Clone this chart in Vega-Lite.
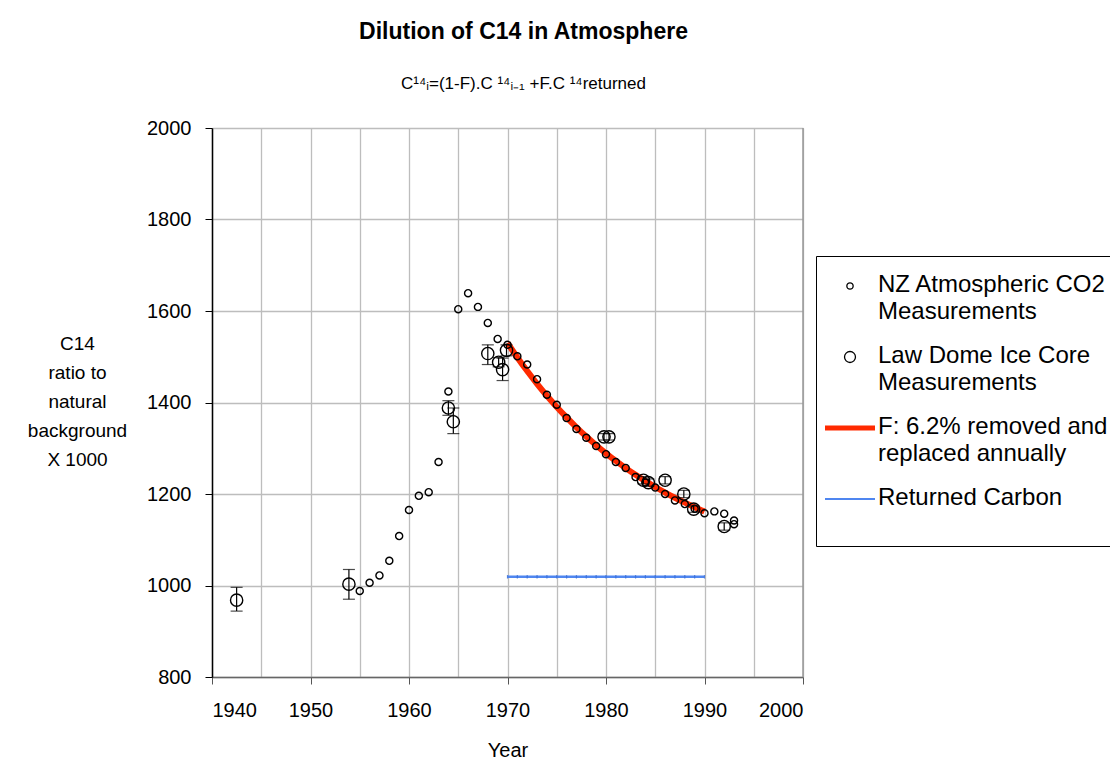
{
  "$schema": "https://vega.github.io/schema/vega-lite/v6.json",
  "width": 591,
  "height": 549,
  "autosize": {"type": "none"},
  "padding": {"left": 212, "top": 128, "right": 307, "bottom": 83},
  "background": "white",
  "title": {
    "text": "Dilution of C14 in Atmosphere",
    "subtitle": "C¹⁴ᵢ=(1-F).C ¹⁴ᵢ₋₁ +F.C ¹⁴returned",
    "anchor": "middle",
    "dx": 16,
    "offset": 26,
    "font": "Liberation Sans",
    "fontSize": 23,
    "fontWeight": "bold",
    "color": "black",
    "subtitleFont": "Liberation Sans",
    "subtitleFontSize": 17,
    "subtitleColor": "black",
    "subtitlePadding": 32
  },
  "config": {
    "view": {"stroke": null},
    "axis": {
      "labelFont": "Liberation Sans",
      "titleFont": "Liberation Sans",
      "labelColor": "black",
      "titleColor": "black",
      "titleFontWeight": "normal",
      "gridColor": "#bdbdbd",
      "gridWidth": 1.3
    }
  },
  "data": {
    "values": [
      {"series": "NZ Atmospheric CO2 Measurements", "year": 1955, "value": 988},
      {"series": "NZ Atmospheric CO2 Measurements", "year": 1956, "value": 1006},
      {"series": "NZ Atmospheric CO2 Measurements", "year": 1957, "value": 1022},
      {"series": "NZ Atmospheric CO2 Measurements", "year": 1958, "value": 1054},
      {"series": "NZ Atmospheric CO2 Measurements", "year": 1959, "value": 1108},
      {"series": "NZ Atmospheric CO2 Measurements", "year": 1960, "value": 1165},
      {"series": "NZ Atmospheric CO2 Measurements", "year": 1961, "value": 1196},
      {"series": "NZ Atmospheric CO2 Measurements", "year": 1962, "value": 1204},
      {"series": "NZ Atmospheric CO2 Measurements", "year": 1963, "value": 1270},
      {"series": "NZ Atmospheric CO2 Measurements", "year": 1964, "value": 1424},
      {"series": "NZ Atmospheric CO2 Measurements", "year": 1965, "value": 1604},
      {"series": "NZ Atmospheric CO2 Measurements", "year": 1966, "value": 1639},
      {"series": "NZ Atmospheric CO2 Measurements", "year": 1967, "value": 1609},
      {"series": "NZ Atmospheric CO2 Measurements", "year": 1968, "value": 1574},
      {"series": "NZ Atmospheric CO2 Measurements", "year": 1969, "value": 1539},
      {"series": "NZ Atmospheric CO2 Measurements", "year": 1970, "value": 1526},
      {"series": "NZ Atmospheric CO2 Measurements", "year": 1971, "value": 1501},
      {"series": "NZ Atmospheric CO2 Measurements", "year": 1972, "value": 1483},
      {"series": "NZ Atmospheric CO2 Measurements", "year": 1973, "value": 1451},
      {"series": "NZ Atmospheric CO2 Measurements", "year": 1974, "value": 1417},
      {"series": "NZ Atmospheric CO2 Measurements", "year": 1975, "value": 1395},
      {"series": "NZ Atmospheric CO2 Measurements", "year": 1976, "value": 1366},
      {"series": "NZ Atmospheric CO2 Measurements", "year": 1977, "value": 1342},
      {"series": "NZ Atmospheric CO2 Measurements", "year": 1978, "value": 1323},
      {"series": "NZ Atmospheric CO2 Measurements", "year": 1979, "value": 1305},
      {"series": "NZ Atmospheric CO2 Measurements", "year": 1980, "value": 1287},
      {"series": "NZ Atmospheric CO2 Measurements", "year": 1981, "value": 1270},
      {"series": "NZ Atmospheric CO2 Measurements", "year": 1982, "value": 1257},
      {"series": "NZ Atmospheric CO2 Measurements", "year": 1983, "value": 1237},
      {"series": "NZ Atmospheric CO2 Measurements", "year": 1984, "value": 1225},
      {"series": "NZ Atmospheric CO2 Measurements", "year": 1985, "value": 1214},
      {"series": "NZ Atmospheric CO2 Measurements", "year": 1986, "value": 1200},
      {"series": "NZ Atmospheric CO2 Measurements", "year": 1987, "value": 1186},
      {"series": "NZ Atmospheric CO2 Measurements", "year": 1988, "value": 1178},
      {"series": "NZ Atmospheric CO2 Measurements", "year": 1989, "value": 1168},
      {"series": "NZ Atmospheric CO2 Measurements", "year": 1990, "value": 1158},
      {"series": "NZ Atmospheric CO2 Measurements", "year": 1991, "value": 1162},
      {"series": "NZ Atmospheric CO2 Measurements", "year": 1992, "value": 1157},
      {"series": "NZ Atmospheric CO2 Measurements", "year": 1993, "value": 1142},
      {"series": "NZ Atmospheric CO2 Measurements", "year": 1993, "value": 1134},
      {"series": "Law Dome Ice Core Measurements", "year": 1942.5, "value": 968, "lo": 944, "hi": 996},
      {"series": "Law Dome Ice Core Measurements", "year": 1953.9, "value": 1003, "lo": 970, "hi": 1035},
      {"series": "Law Dome Ice Core Measurements", "year": 1964.0, "value": 1388, "lo": 1372, "hi": 1404},
      {"series": "Law Dome Ice Core Measurements", "year": 1964.5, "value": 1358, "lo": 1332, "hi": 1388},
      {"series": "Law Dome Ice Core Measurements", "year": 1968.0, "value": 1507, "lo": 1483, "hi": 1526},
      {"series": "Law Dome Ice Core Measurements", "year": 1969.1, "value": 1488, "lo": 1478, "hi": 1498},
      {"series": "Law Dome Ice Core Measurements", "year": 1969.5, "value": 1472, "lo": 1448, "hi": 1497},
      {"series": "Law Dome Ice Core Measurements", "year": 1969.9, "value": 1514, "lo": 1502, "hi": 1526},
      {"series": "Law Dome Ice Core Measurements", "year": 1979.8, "value": 1325, "lo": 1318, "hi": 1332},
      {"series": "Law Dome Ice Core Measurements", "year": 1980.3, "value": 1325, "lo": 1318, "hi": 1332},
      {"series": "Law Dome Ice Core Measurements", "year": 1983.8, "value": 1230, "lo": 1222, "hi": 1238},
      {"series": "Law Dome Ice Core Measurements", "year": 1984.3, "value": 1225, "lo": 1217, "hi": 1233},
      {"series": "Law Dome Ice Core Measurements", "year": 1986.0, "value": 1230, "lo": 1222, "hi": 1238},
      {"series": "Law Dome Ice Core Measurements", "year": 1987.9, "value": 1200, "lo": 1192, "hi": 1208},
      {"series": "Law Dome Ice Core Measurements", "year": 1988.9, "value": 1167, "lo": 1160, "hi": 1174},
      {"series": "Law Dome Ice Core Measurements", "year": 1992.0, "value": 1129, "lo": 1121, "hi": 1137},
      {"series": "F: 6.2% removed and replaced annually", "year": 1970, "value": 1530},
      {"series": "F: 6.2% removed and replaced annually", "year": 1971, "value": 1498.4},
      {"series": "F: 6.2% removed and replaced annually", "year": 1972, "value": 1468.7},
      {"series": "F: 6.2% removed and replaced annually", "year": 1973, "value": 1440.9},
      {"series": "F: 6.2% removed and replaced annually", "year": 1974, "value": 1414.8},
      {"series": "F: 6.2% removed and replaced annually", "year": 1975, "value": 1390.3},
      {"series": "F: 6.2% removed and replaced annually", "year": 1976, "value": 1367.4},
      {"series": "F: 6.2% removed and replaced annually", "year": 1977, "value": 1345.8},
      {"series": "F: 6.2% removed and replaced annually", "year": 1978, "value": 1325.6},
      {"series": "F: 6.2% removed and replaced annually", "year": 1979, "value": 1306.7},
      {"series": "F: 6.2% removed and replaced annually", "year": 1980, "value": 1288.9},
      {"series": "F: 6.2% removed and replaced annually", "year": 1981, "value": 1272.2},
      {"series": "F: 6.2% removed and replaced annually", "year": 1982, "value": 1256.6},
      {"series": "F: 6.2% removed and replaced annually", "year": 1983, "value": 1241.9},
      {"series": "F: 6.2% removed and replaced annually", "year": 1984, "value": 1228.2},
      {"series": "F: 6.2% removed and replaced annually", "year": 1985, "value": 1215.3},
      {"series": "F: 6.2% removed and replaced annually", "year": 1986, "value": 1203.2},
      {"series": "F: 6.2% removed and replaced annually", "year": 1987, "value": 1191.8},
      {"series": "F: 6.2% removed and replaced annually", "year": 1988, "value": 1181.1},
      {"series": "F: 6.2% removed and replaced annually", "year": 1989, "value": 1171.2},
      {"series": "F: 6.2% removed and replaced annually", "year": 1990, "value": 1161.8},
      {"series": "Returned Carbon", "year": 1970, "value": 1019},
      {"series": "Returned Carbon", "year": 1971, "value": 1019},
      {"series": "Returned Carbon", "year": 1972, "value": 1019},
      {"series": "Returned Carbon", "year": 1973, "value": 1019},
      {"series": "Returned Carbon", "year": 1974, "value": 1019},
      {"series": "Returned Carbon", "year": 1975, "value": 1019},
      {"series": "Returned Carbon", "year": 1976, "value": 1019},
      {"series": "Returned Carbon", "year": 1977, "value": 1019},
      {"series": "Returned Carbon", "year": 1978, "value": 1019},
      {"series": "Returned Carbon", "year": 1979, "value": 1019},
      {"series": "Returned Carbon", "year": 1980, "value": 1019},
      {"series": "Returned Carbon", "year": 1981, "value": 1019},
      {"series": "Returned Carbon", "year": 1982, "value": 1019},
      {"series": "Returned Carbon", "year": 1983, "value": 1019},
      {"series": "Returned Carbon", "year": 1984, "value": 1019},
      {"series": "Returned Carbon", "year": 1985, "value": 1019},
      {"series": "Returned Carbon", "year": 1986, "value": 1019},
      {"series": "Returned Carbon", "year": 1987, "value": 1019},
      {"series": "Returned Carbon", "year": 1988, "value": 1019},
      {"series": "Returned Carbon", "year": 1989, "value": 1019},
      {"series": "Returned Carbon", "year": 1990, "value": 1019}
    ]
  },
  "encoding": {
    "x": {
      "field": "year",
      "type": "quantitative",
      "scale": {"domain": [1940, 2000], "nice": false, "zero": false},
      "axis": {
        "title": "Year",
        "titleFontSize": 20,
        "titlePadding": 20,
        "values": [1940, 1945, 1950, 1955, 1960, 1965, 1970, 1975, 1980, 1985, 1990, 1995, 2000],
        "labelExpr": "datum.value % 10 == 0 ? datum.label : ''",
        "tickOpacity": {"condition": {"test": "datum.value % 10 == 0", "value": 1}, "value": 0},
        "format": "d",
        "labelFontSize": 20,
        "labelPadding": 16,
        "tickSize": 7,
        "tickColor": "#555555",
        "domainColor": "#666666",
        "domainWidth": 1.5,
        "grid": true
      }
    },
    "y": {
      "field": "value",
      "type": "quantitative",
      "scale": {"domain": [800, 2000], "nice": false, "zero": false},
      "axis": {
        "title": ["C14", "ratio  to", "natural", "background", "X 1000"],
        "titleAngle": 0,
        "titleAlign": "center",
        "titleBaseline": "middle",
        "titleX": -135,
        "titleY": 215,
        "titleFontSize": 19,
        "titleLineHeight": 29,
        "values": [800, 1000, 1200, 1400, 1600, 1800, 2000],
        "format": "d",
        "labelFontSize": 20,
        "labelPadding": 14,
        "tickSize": 7,
        "tickColor": "black",
        "domainColor": "black",
        "domainWidth": 1.5,
        "grid": true
      }
    }
  },
  "layer": [
    {
      "mark": {"type": "rule", "color": "#999999", "strokeWidth": 1.5},
      "data": {"values": [{"edge": 2000}]},
      "encoding": {"x": {"field": "edge", "type": "quantitative"}, "y": {"value": 0}, "y2": {"value": 549}}
    },
    {
      "transform": [{"filter": "datum.series == 'F: 6.2% removed and replaced annually'"}],
      "mark": {"type": "line", "strokeWidth": 6, "interpolate": "monotone"},
      "encoding": {
        "color": {
          "field": "series",
          "type": "nominal",
          "scale": {
            "domain": ["NZ Atmospheric CO2 Measurements", "Law Dome Ice Core Measurements", "F: 6.2% removed and replaced annually", "Returned Carbon"],
            "range": ["black", "black", "#ff2a00", "#4f86f0"]
          },
          "legend": {
            "title": " ",
            "titleOrient": "bottom",
            "titleFontSize": 18,
            "titlePadding": 0,
            "orient": "none",
            "legendX": 604,
            "legendY": 128,
            "padding": 18,
            "fillColor": "white",
            "strokeColor": "black",
            "symbolSize": 2500,
            "symbolOffset": 4,
            "labelFont": "Liberation Sans",
            "labelFontSize": 24,
            "labelColor": "black",
            "labelOffset": 16,
            "labelLimit": 400,
            "rowPadding": 20,
            "labelBaseline": "top",
            "labelExpr": "datum.value == 'NZ Atmospheric CO2 Measurements' ? ['NZ Atmospheric CO2', 'Measurements'] : datum.value == 'Law Dome Ice Core Measurements' ? ['Law Dome Ice Core', 'Measurements'] : datum.value == 'F: 6.2% removed and replaced annually' ? ['F: 6.2% removed and', 'replaced annually'] : datum.label",
            "encode": {
              "symbols": {
                "update": {
                  "shape": {"signal": "datum.value == 'F: 6.2% removed and replaced annually' || datum.value == 'Returned Carbon' ? 'stroke' : 'circle'"},
                  "size": {"signal": "datum.value == 'NZ Atmospheric CO2 Measurements' ? 40 : datum.value == 'Law Dome Ice Core Measurements' ? 120 : 2500"},
                  "strokeWidth": {"signal": "datum.value == 'F: 6.2% removed and replaced annually' ? 5 : datum.value == 'Returned Carbon' ? 2 : 1.3"},
                  "stroke": {"signal": "datum.value == 'F: 6.2% removed and replaced annually' ? '#ff2a00' : datum.value == 'Returned Carbon' ? '#4f86f0' : 'black'"},
                  "fill": {"value": "transparent"},
                  "opacity": {"value": 1}
                }
              },
              "labels": {"update": {"dy": {"value": -13}, "lineHeight": {"value": 27}}}
            }
          }
        }
      }
    },
    {
      "transform": [{"filter": "datum.series == 'Returned Carbon'"}],
      "mark": {"type": "line", "strokeWidth": 2.5},
      "encoding": {"color": {"field": "series", "type": "nominal"}}
    },
    {
      "transform": [{"filter": "datum.series == 'Returned Carbon'"}],
      "mark": {"type": "point", "shape": "M0,-1L0,1", "size": 12, "strokeWidth": 1.2, "color": "#3a6fd8", "opacity": 0.8}
    },
    {
      "transform": [{"filter": "datum.series == 'Law Dome Ice Core Measurements'"}],
      "mark": {"type": "errorbar", "color": "black", "ticks": {"size": 12, "color": "black", "thickness": 1.2}, "rule": {"strokeWidth": 1.2}},
      "encoding": {
        "y": {"field": "lo", "type": "quantitative"},
        "y2": {"field": "hi"}
      }
    },
    {
      "transform": [{"filter": "datum.series == 'Law Dome Ice Core Measurements'"}],
      "mark": {"type": "point", "shape": "circle", "filled": false, "size": 150, "strokeWidth": 1.4, "opacity": 1},
      "encoding": {"color": {"field": "series", "type": "nominal"}}
    },
    {
      "transform": [{"filter": "datum.series == 'NZ Atmospheric CO2 Measurements'"}],
      "mark": {"type": "point", "shape": "circle", "filled": false, "size": 50, "strokeWidth": 1.4, "opacity": 1},
      "encoding": {"color": {"field": "series", "type": "nominal"}}
    }
  ]
}
